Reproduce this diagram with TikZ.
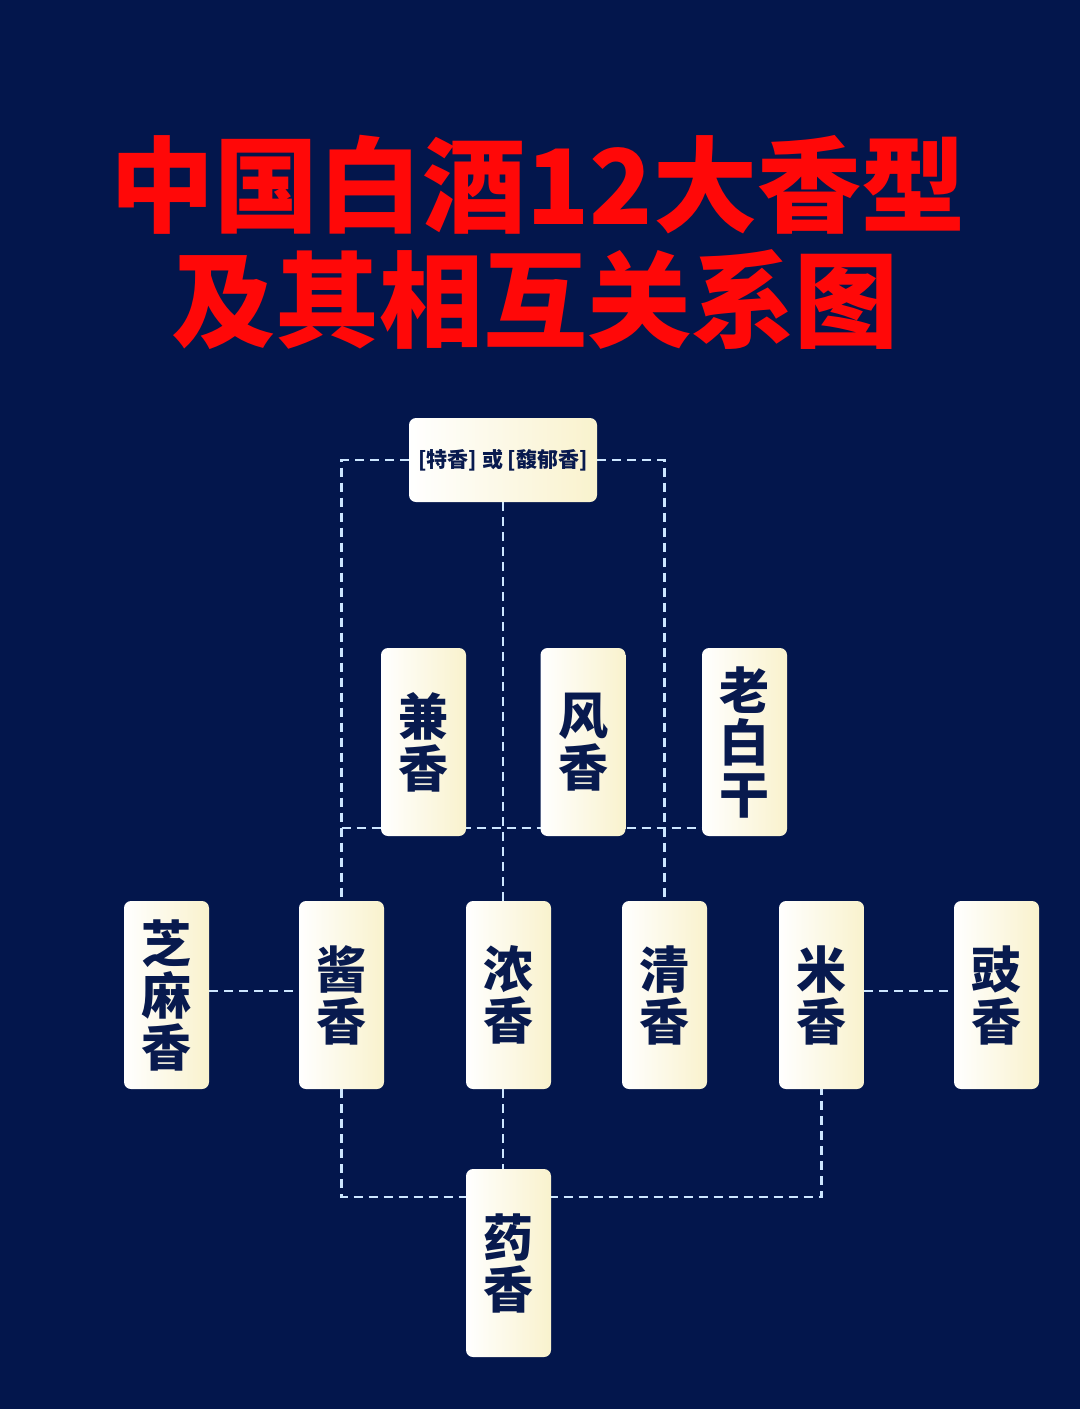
\documentclass[tikz,border=0pt]{standalone}
\usepackage{fontspec}
\newfontfamily\cjk{Noto Sans CJK SC}
\usetikzlibrary{backgrounds}
\definecolor{navy}{RGB}{3,22,76}
\definecolor{ink}{RGB}{8,26,78}
\definecolor{cream}{RGB}{249,242,205}
\definecolor{dashc}{RGB}{205,230,255}
\definecolor{titlered}{RGB}{255,8,8}
\tikzset{
  card/.style={rectangle, rounded corners=7pt, minimum width=85pt, minimum height=188pt,
    left color=white, right color=cream, text=ink, inner sep=0pt, align=center,
    font=\cjk\bfseries\fontsize{50}{52}\selectfont},
  topcard/.style={rectangle, rounded corners=7pt, minimum width=188pt, minimum height=84pt,
    left color=white, right color=cream, text=ink, inner sep=0pt,
    font=\cjk\bfseries\fontsize{21}{24}\selectfont},
  link/.style={draw=dashc, line width=2.2pt, dash pattern=on 9pt off 6pt},
  titletext/.style={text=titlered, font=\cjk\bfseries\fontsize{104}{110}\selectfont, inner sep=0pt}
}
\begin{document}
\begin{tikzpicture}[x=1pt,y=-1pt]
\useasboundingbox (0,0) rectangle (1080,1409);
% title
\node[titletext] (t1) at (538,185) {中国白酒12大香型};
\node[titletext] (t2) at (535,300) {及其相互关系图};
% top
\node[topcard] (top) at (503,460) {[特香] 或 [馥郁香]};
% row 2
\node[card] (jian) at (423.5,742) {兼\\香};
\node[card] (feng) at (583,742) {风\\香};
\node[card] (lao) at (744.5,742) {老\\白\\干};
% row 3
\node[card] (zhima) at (166.5,995) {芝\\麻\\香};
\node[card] (jiang) at (341.5,995) {酱\\香};
\node[card] (nong) at (508.5,995) {浓\\香};
\node[card] (qing) at (664.5,995) {清\\香};
\node[card] (mi) at (821.5,995) {米\\香};
\node[card] (chi) at (996.5,995) {豉\\香};
% bottom
\node[card] (yao) at (508.5,1263) {药\\香};
\coordinate (h1) at (341.5,828);
\coordinate (b1) at (341.5,1197);
\begin{pgfonlayer}{background}
\fill[navy] (0,0) rectangle (1080,1409);
\draw[link] (top.west) -| (jiang.north);
\draw[link] (top.east) -| (qing.north);
\draw[link] (top.south) -- (top.south |- nong.north);
\draw[link] (h1) -- (h1 -| lao.west);
\draw[link] ([yshift=4pt]zhima.east) -- ([yshift=4pt]jiang.west);
\draw[link] ([yshift=4pt]mi.east) -- ([yshift=4pt]chi.west);
\draw[link] (jiang.south) -- (b1) -| (mi.south);
\draw[link] (nong.south -| top.south) -- (yao.north -| top.south);
\end{pgfonlayer}
\end{tikzpicture}
\end{document}
